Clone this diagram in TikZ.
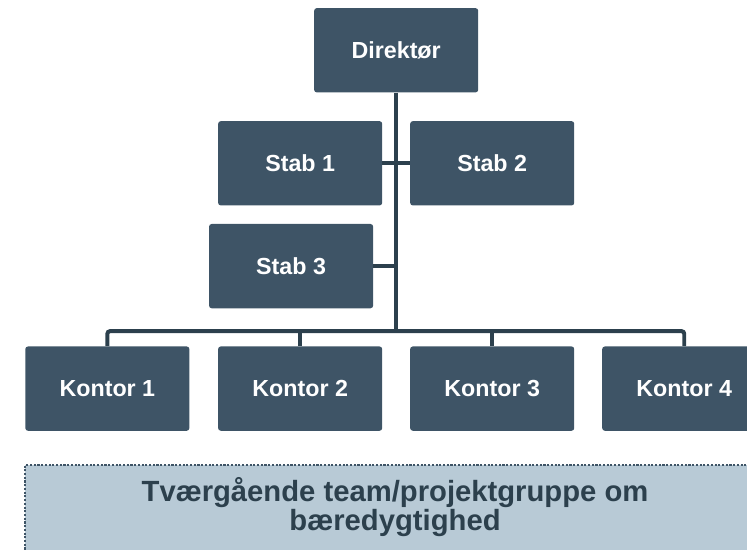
\documentclass[tikz,border=0pt]{standalone}
\usepackage{fontspec}
\setmainfont{Liberation Sans}
\usetikzlibrary{positioning}
\definecolor{boxblue}{HTML}{3E5466}
\definecolor{linkblue}{HTML}{2C404D}
\definecolor{teamfill}{HTML}{B8CAD6}

\begin{document}
\begin{tikzpicture}[
    unit/.style={rectangle, rounded corners=2pt, fill=boxblue, text=white,
      minimum width=4.34cm, minimum height=2.23cm, inner sep=0pt,
      font=\fontsize{17.5}{21}\selectfont\bfseries},
    link/.style={draw=linkblue, line width=3pt}
  ]
  \useasboundingbox (0,0) rectangle (19.76,14.53);

  % Top
  \node[unit] (dir) at (10.48,13.20) {Direktør};

  % Staff units
  \node[unit] (s1) at (7.94,10.21) {Stab 1};
  \node[unit] (s2) at (13.02,10.21) {Stab 2};
  \node[unit] (s3) at (7.70,7.49) {Stab 3};

  % Offices
  \node[unit] (k1) at (2.84,4.25) {Kontor 1};
  \node[unit] (k2) at (7.94,4.25) {Kontor 2};
  \node[unit] (k3) at (13.02,4.25) {Kontor 3};
  \node[unit] (k4) at (18.10,4.25) {Kontor 4};

  % Lines
  \coordinate (bus) at (10.48,5.77);
  \draw[link] (dir.south) -- (bus);
  \draw[link] (s1.east) -- (s2.west);
  \draw[link] (s3.east) -- (s3.east -| bus);
  \draw[link, rounded corners=2pt] (k1.north) |- (bus) -| (k4.north);
  \draw[link] (k2.north) -- (k2.north |- bus);
  \draw[link] (k3.north) -- (k3.north |- bus);

  % Team
  \draw[draw=boxblue, fill=teamfill, line width=1.5pt, dash pattern=on 1.6pt off 1.2pt]
    (0.66,-0.5) rectangle (20.4,2.22);
  \node[text=linkblue, align=center, font=\fontsize{22}{22}\selectfont\bfseries]
    (team) at (10.45,1.11) {Tværgående team/projektgruppe om\\bæredygtighed};

\end{tikzpicture}
\end{document}
